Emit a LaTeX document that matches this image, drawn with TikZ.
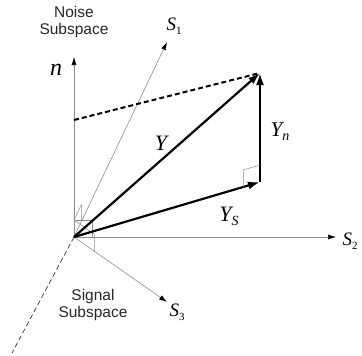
\documentclass[tikz,border=0pt]{standalone}
\usepackage{fontspec}
\setmainfont{Liberation Serif}
\newfontfamily\sansf{Liberation Sans}
\usetikzlibrary{arrows.meta,calc}
\tikzset{
  axis/.style={draw=black!45, line width=0.6pt, -{Latex[length=8pt,width=5pt,black]}},
  vec/.style={draw=black, line width=2.2pt, -{Latex[length=12pt,width=8pt]}},
  anglemark/.style={draw=black!45, line width=0.5pt},
  lbl/.style={inner sep=0pt, font=\sansf\fontsize{15.5}{17.5}\selectfont, align=center, text=black!85},
  mlbl/.style={inner sep=0pt}
}
\newcommand{\subl}[4]{{\fontsize{#1}{#1}\selectfont\itshape #2}\raisebox{-4pt}{\fontsize{#3}{#3}\selectfont #4}}
\begin{document}
\begin{tikzpicture}[x=1pt,y=-1pt]
\useasboundingbox (0,0) rectangle (362,356);
% points
\coordinate (O) at (74,237);
\coordinate (ntip) at (74,57);
\coordinate (s1tip) at (167,42);
\coordinate (s2tip) at (336,237);
\coordinate (s3tip) at (167,302);
\coordinate (neg) at (12,353);
\coordinate (P) at (260,73);
\coordinate (Q) at (260,182);
\coordinate (N0) at (74,120);
% axes
\draw[axis] (O) -- (ntip);
\draw[axis] (O) -- (s1tip);
\draw[axis] (O) -- (s2tip);
\draw[axis] (O) -- (s3tip);
\draw[black!80, line width=0.7pt, dash pattern=on 5pt off 3pt] (O) -- (neg);
% right-angle markers at origin
\coordinate (mn) at (74,220);
\coordinate (m2) at (92,237);
\coordinate (m1) at ($(O)!17pt!(s1tip)$);
\coordinate (m3) at ($(O)!25pt!(s3tip)$);
\draw[anglemark] (mn) -- ($(mn)+(m2)-(O)$) -- (m2);
\draw[anglemark] (mn) -- ($(mn)+(m1)-(O)$) -- (m1);
\draw[anglemark] (mn) -- ($(mn)+(m3)-(O)$) -- (m3);
% dashed projection
\draw[black, line width=2pt, dash pattern=on 5pt off 3pt] (N0) -- (P);
% vectors
\draw[vec] (O) -- (P);
\draw[vec] (O) -- (Q);
\draw[vec] (Q) -- (P);
% right angle at Q
\coordinate (ra) at ($(Q)!17pt!(O)$);
\coordinate (rb) at ($(Q)!17pt!(P)$);
\draw[anglemark] (ra) -- ($(ra)+(rb)-(Q)$) -- (rb);
% labels
\node[lbl] (noise) at (74,22) {Noise\\Subspace};
\node[lbl] (signal) at (93,305) {Signal\\Subspace};
\node[mlbl] (nlab) at (56,70) {\fontsize{24}{24}\selectfont\itshape n};
\node[mlbl] (s1lab) at (174,26) {\subl{19}{S}{11}{1}};
\node[mlbl] (s2lab) at (350,241) {\subl{19}{S}{11}{2}};
\node[mlbl] (s3lab) at (177,312) {\subl{19}{S}{11}{3}};
\node[mlbl] (ylab) at (161,143) {\fontsize{22}{22}\selectfont\itshape Y};
\node[mlbl] (ynlab) at (280,132) {\subl{21}{Y}{14}{\itshape n}};
\node[mlbl] (yslab) at (229,216) {\subl{22}{Y}{14}{\itshape S}};
\end{tikzpicture}
\end{document}
